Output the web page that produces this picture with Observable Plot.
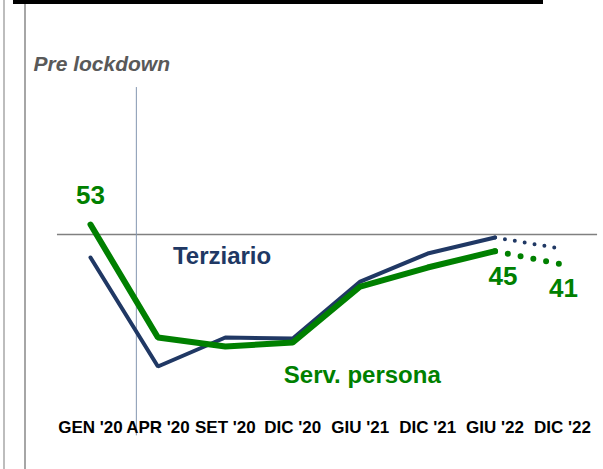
<!DOCTYPE html>
<html>
<head>
<meta charset="utf-8">
<script src="https://cdn.jsdelivr.net/npm/d3@7"></script>
<script src="https://cdn.jsdelivr.net/npm/@observablehq/plot@0.6"></script>
<style>
  html, body { margin: 0; padding: 0; background: #fff; }
  #wrap { position: relative; width: 603px; height: 469px; overflow: hidden; }
  #wrap svg { position: absolute; left: 0; top: 0; }
  .deco { position: absolute; }
</style>
</head>
<body>
<div id="wrap">
  <div class="deco" style="left:3px;top:0;width:2px;height:469px;background:#bdbdbd"></div>
  <div class="deco" style="left:24px;top:0;width:2px;height:469px;background:#a6a6a6"></div>
  <div class="deco" style="left:13px;top:0;width:530px;height:4px;background:#000"></div>
</div>
<script>
// ---- data ----
const categories = ["GEN '20", "APR '20", "SET '20", "DIC '20", "GIU '21", "DIC '21", "GIU '22", "DIC '22"];
const terziario   = [43.1, 10.4, 19.1, 18.8, 35.9, 44.3, 49.1, 45.7];
const servPersona = [53, 19.1, 16.4, 17.6, 34.4, 40.1, 45, 41];
const forecastStart = 6;      // from GIU '22 onward the series is a forecast (dotted)
const threshold = 50;         // pre-lockdown reference level
const lockdownAt = 0.68;      // position of the lockdown marker between GEN '20 and APR '20
const labelled = [0, 6, 7];   // points of Serv. persona carrying a value label

const rows = (vals, name) => vals.map((v, i) => ({i, v, name}));
const terz = rows(terziario, "Terziario");
const serv = rows(servPersona, "Serv. persona");
const solid = d => d.i <= forecastStart;
const dotted = d => d.i >= forecastStart;

const navy = "#203864";
const green = "#008000";
const font = "'Liberation Sans', Arial, sans-serif";

const chart = Plot.plot({
  width: 603,
  height: 469,
  marginTop: 0,
  marginLeft: 0,
  marginRight: 0,
  marginBottom: 53,
  style: {fontFamily: font, background: "transparent", overflow: "visible"},
  x: {type: "linear", domain: [0, categories.length - 1], range: [90, 562], axis: null},
  y: {type: "linear", domain: [0, 60], range: [400.7, 200.7], axis: null},
  marks: [
    Plot.ruleY([threshold], {x1: -0.49, x2: 7.52, stroke: "#808080", strokeWidth: 1.5}),
    Plot.ruleX([lockdownAt], {y1: -10.4, y2: 94.1, stroke: "#8497b0", strokeWidth: 1}),
    Plot.line(terz.filter(solid), {x: "i", y: "v", stroke: navy, strokeWidth: 4, strokeLinejoin: "miter"}),
    Plot.line(terz.filter(dotted), {x: "i", y: "v", stroke: navy, strokeWidth: 4, strokeLinecap: "round", strokeDasharray: "0,10"}),
    Plot.line(serv.filter(solid), {x: "i", y: "v", stroke: green, strokeWidth: 6, strokeLinejoin: "miter"}),
    Plot.line(serv.filter(dotted), {x: "i", y: "v", stroke: green, strokeWidth: 6, strokeLinecap: "round", strokeDasharray: "0,13"}),
    Plot.axisX(d3.range(categories.length), {
      anchor: "bottom", tickSize: 0, tickPadding: 4,
      tickFormat: i => categories[i],
      fontSize: 17, fontWeight: "bold", fill: "#000", label: null
    }),
    // value labels
    Plot.text(serv.filter(d => d.i === labelled[0]), {x: "i", y: "v", text: d => String(d.v), fill: green, fontSize: 26, fontWeight: "bold", lineAnchor: "bottom", dy: -21}),
    Plot.text(serv.filter(d => d.i === labelled[1]), {x: "i", y: "v", text: d => String(d.v), fill: green, fontSize: 26, fontWeight: "bold", lineAnchor: "bottom", dx: 8, dy: 34}),
    Plot.text(serv.filter(d => d.i === labelled[2]), {x: "i", y: "v", text: d => String(d.v), fill: green, fontSize: 26, fontWeight: "bold", lineAnchor: "bottom", dx: 1, dy: 32}),
    // series names
    Plot.text(terz.filter(d => d.i === 1), {x: "i", y: "v", text: "name", fill: navy, fontSize: 24, fontWeight: "bold", textAnchor: "start", lineAnchor: "bottom", dx: 15, dy: -103}),
    Plot.text(serv.filter(d => d.i === 3), {x: "i", y: "v", text: "name", fill: green, fontSize: 24, fontWeight: "bold", textAnchor: "start", lineAnchor: "bottom", dx: -9, dy: 40}),
    // title
    Plot.text(["Pre lockdown"], {frameAnchor: "top-left", text: d => d, fill: "#595959", fontSize: 21, fontWeight: "bold", fontStyle: "italic", textAnchor: "start", lineAnchor: "bottom", dx: 33, dy: 70})
  ]
});
document.getElementById("wrap").appendChild(chart);
</script>
</body>
</html>
